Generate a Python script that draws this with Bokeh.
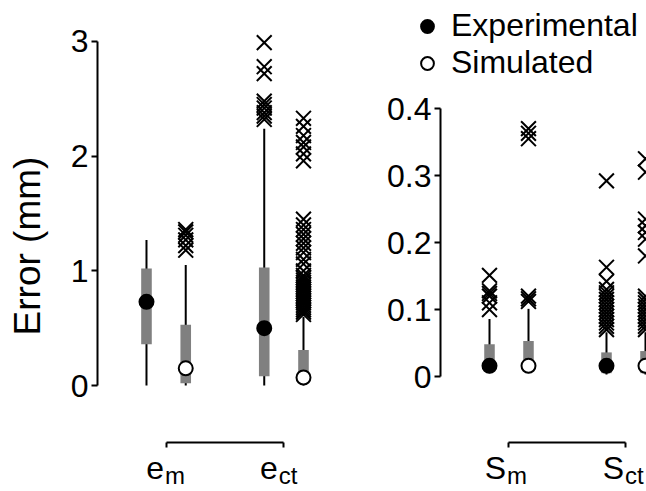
from bokeh.plotting import figure
from bokeh.layouts import row
from bokeh.models import Range1d, FixedTicker, Legend, LegendItem
from bokeh.core.properties import value
from bokeh.embed import file_html
from bokeh.resources import INLINE

FONT = "Liberation Sans"
GRAY = "#808080"

series = ["Experimental", "Simulated"]

# ---------------- left panel: error e (mm) ----------------
e_groups = ["m", "ct"]
e_base = "e"
# [low whisker, q1, median, q3, high whisker]
e_m_exp = [0.0, 0.36, 0.73, 1.02, 1.27]
e_m_sim = [0.0, 0.02, 0.15, 0.53, 1.05]
e_ct_exp = [0.0, 0.08, 0.50, 1.03, 2.24]
e_ct_sim = [0.0, 0.07, 0.07, 0.31, 0.60]
e_m_exp_out = []
e_m_sim_out = [1.18, 1.22, 1.27, 1.31, 1.34, 1.36]
e_ct_exp_out = [2.32, 2.35, 2.38, 2.42, 2.45, 2.48, 2.72, 2.78, 2.99]
e_ct_sim_out = [0.62, 0.64, 0.66, 0.68, 0.70, 0.72, 0.74, 0.76, 0.78, 0.80,
                0.82, 0.84, 0.86, 0.88, 0.90, 0.92, 0.94, 0.96, 1.00, 1.06,
                1.10, 1.16, 1.20, 1.24, 1.28, 1.32, 1.36, 1.40, 1.45, 1.96,
                2.02, 2.08, 2.12, 2.18, 2.26, 2.33]
e_yticks = [0, 1, 2, 3]
e_ytick_labels = ["0", "1", "2", "3"]

# ---------------- right panel: S ----------------
s_groups = ["m", "ct"]
s_base = "S"
s_m_exp = [0.005, 0.008, 0.016, 0.048, 0.086]
s_m_sim = [0.005, 0.008, 0.016, 0.053, 0.101]
s_ct_exp = [0.003, 0.005, 0.016, 0.036, 0.066]
s_ct_sim = [0.003, 0.005, 0.016, 0.038, 0.066]
s_m_exp_out = [0.100, 0.110, 0.120, 0.124, 0.128, 0.151]
s_m_sim_out = [0.112, 0.116, 0.120, 0.355, 0.363, 0.370]
s_ct_exp_out = [0.070, 0.075, 0.080, 0.085, 0.090, 0.095, 0.100, 0.105, 0.110,
                0.115, 0.120, 0.125, 0.130, 0.142, 0.163, 0.292]
s_ct_sim_out = [0.070, 0.075, 0.080, 0.085, 0.090, 0.095, 0.100, 0.105, 0.110,
                0.115, 0.120, 0.180, 0.205, 0.215, 0.225, 0.235, 0.305, 0.325]
s_yticks = [0, 0.1, 0.2, 0.3, 0.4]
s_ytick_labels = ["0", "0.1", "0.2", "0.3", "0.4"]

H = 491


def make_panel(groups, base, stats, outs, yticks, ylabels, width, border_left,
               xr, yr, bracket_px, ylabel=None, yaxis_x=None, base_offsets=(0, 0)):
    p = figure(width=width, height=H, output_backend="svg", toolbar_location=None,
               title=None, x_range=Range1d(*xr), y_range=Range1d(*yr),
               min_border_left=border_left, min_border_right=0, min_border_top=0,
               min_border_bottom=0)
    p.grid.visible = False
    p.outline_line_color = None
    p.background_fill_color = "white"
    p.border_fill_color = "white"

    ppu = H / (yr[1] - yr[0])
    px = lambda d: yr[0] + d / ppu   # pixel distance above the bottom edge -> data

    xs, lw, q1, med, q3, hw = [], [], [], [], [], []
    med_src = {s: ([], []) for s in series}
    ox, oy = [], []
    for gi, g in enumerate(groups):
        for si, s in enumerate(series):
            x = 3 * gi + si
            st = stats[(g, s)]
            xs.append(x)
            lw.append(st[0]); q1.append(st[1]); med.append(st[2])
            q3.append(st[3]); hw.append(st[4])
            med_src[s][0].append(x); med_src[s][1].append(st[2])
            for v in outs[(g, s)]:
                ox.append(x); oy.append(v)

    p.segment(x0=xs, y0=lw, x1=xs, y1=hw, line_color="black", line_width=2)
    p.vbar(x=xs, bottom=q1, top=q3, width=0.27, fill_color=GRAY, line_color=None)
    p.scatter(ox, oy, marker="x", size=21, line_color="black", line_width=2)
    r_exp = p.scatter(med_src["Experimental"][0], med_src["Experimental"][1],
                      marker="circle", size=14, fill_color="black",
                      line_color="black", line_width=2)
    r_sim = p.scatter(med_src["Simulated"][0], med_src["Simulated"][1],
                      marker="circle", size=14, fill_color="white",
                      line_color="black", line_width=2)

    # y axis
    ya = p.yaxis[0]
    if yaxis_x is not None:
        ya.fixed_location = yaxis_x
    ya.bounds = (yticks[0], yticks[-1])
    ya.ticker = FixedTicker(ticks=yticks)
    ya.major_label_overrides = {t: l for t, l in zip(yticks, ylabels)}
    ya.minor_tick_line_color = None
    ya.major_tick_in = 0
    ya.major_tick_out = 6
    ya.major_tick_line_width = 2
    ya.axis_line_width = 2
    ya.major_label_standoff = 3
    ya.major_label_text_font = FONT
    ya.major_label_text_font_size = "32px"
    ya.major_label_text_color = "black"
    if ylabel:
        ya.axis_label = ylabel
        ya.axis_label_text_font = FONT
        ya.axis_label_text_font_size = "37px"
        ya.axis_label_text_font_style = "normal"
        ya.axis_label_text_color = "black"
        ya.axis_label_standoff = 20

    # x axis: bracket between group centres
    centers = [3 * gi + 0.5 for gi in range(len(groups))]
    xa = p.xaxis[0]
    xa.fixed_location = px(H - bracket_px)
    xa.bounds = (centers[0], centers[-1])
    xa.ticker = FixedTicker(ticks=centers)
    xa.major_label_overrides = {c: "" for c in centers}
    xa.major_label_text_font_size = "0px"
    xa.major_label_standoff = 0
    xa.minor_tick_line_color = None
    xa.major_tick_in = 0
    xa.major_tick_out = 5
    xa.major_tick_line_width = 2
    xa.axis_line_width = 2

    # group labels with subscripts
    p.text(x=centers, y=[px(H - 467)] * len(centers), text=[base] * len(centers),
           x_offset=list(base_offsets), text_align="right", text_baseline="alphabetic",
           text_font=value(FONT), text_font_size=value("32px"), text_color="black")
    p.text(x=centers, y=[px(H - 475)] * len(centers), text=groups,
           x_offset=[o + 1 for o in base_offsets], text_align="left",
           text_baseline="alphabetic", text_font=value(FONT),
           text_font_size=value("24px"), text_color="black")
    return p, r_exp, r_sim


e_stats = {("m", "Experimental"): e_m_exp, ("m", "Simulated"): e_m_sim,
           ("ct", "Experimental"): e_ct_exp, ("ct", "Simulated"): e_ct_sim}
e_outs = {("m", "Experimental"): e_m_exp_out, ("m", "Simulated"): e_m_sim_out,
          ("ct", "Experimental"): e_ct_exp_out, ("ct", "Simulated"): e_ct_sim_out}
s_stats = {("m", "Experimental"): s_m_exp, ("m", "Simulated"): s_m_sim,
           ("ct", "Experimental"): s_ct_exp, ("ct", "Simulated"): s_ct_sim}
s_outs = {("m", "Experimental"): s_m_exp_out, ("m", "Simulated"): s_m_sim_out,
          ("ct", "Experimental"): s_ct_exp_out, ("ct", "Simulated"): s_ct_sim_out}

# left: frame x 97..338 px, y: 0 -> 385 px, 3 -> 41 px
p1, _, _ = make_panel(e_groups, e_base, e_stats, e_outs, e_yticks, e_ytick_labels,
                      width=338, border_left=97,
                      xr=(-1.248, 4.892), yr=(-0.924, 3.3575), bracket_px=442,
                      ylabel="Error (mm)", base_offsets=(-2, -6))
# right: frame x 338..646 px, y: 0 -> 376 px, 0.4 -> 108 px
p2, r_exp, r_sim = make_panel(s_groups, s_base, s_stats, s_outs, s_yticks, s_ytick_labels,
                              width=308, border_left=0,
                              xr=(-3.872, 4.026), yr=(-0.1716, 0.5612), bracket_px=442,
                              yaxis_x=-1.256, base_offsets=(-3, -2))

legend = Legend(items=[LegendItem(label=series[0], renderers=[r_exp]),
                       LegendItem(label=series[1], renderers=[r_sim])],
                location=(73, 410), orientation="vertical",
                glyph_width=32, glyph_height=34, label_height=34, spacing=-2,
                padding=0, margin=0, label_standoff=8,
                label_text_font=FONT, label_text_font_size="32px",
                label_text_color="black",
                border_line_color=None, background_fill_alpha=0)
p2.add_layout(legend)

layout = row(p1, p2)
open("out.html", "w").write(file_html(layout, INLINE))
